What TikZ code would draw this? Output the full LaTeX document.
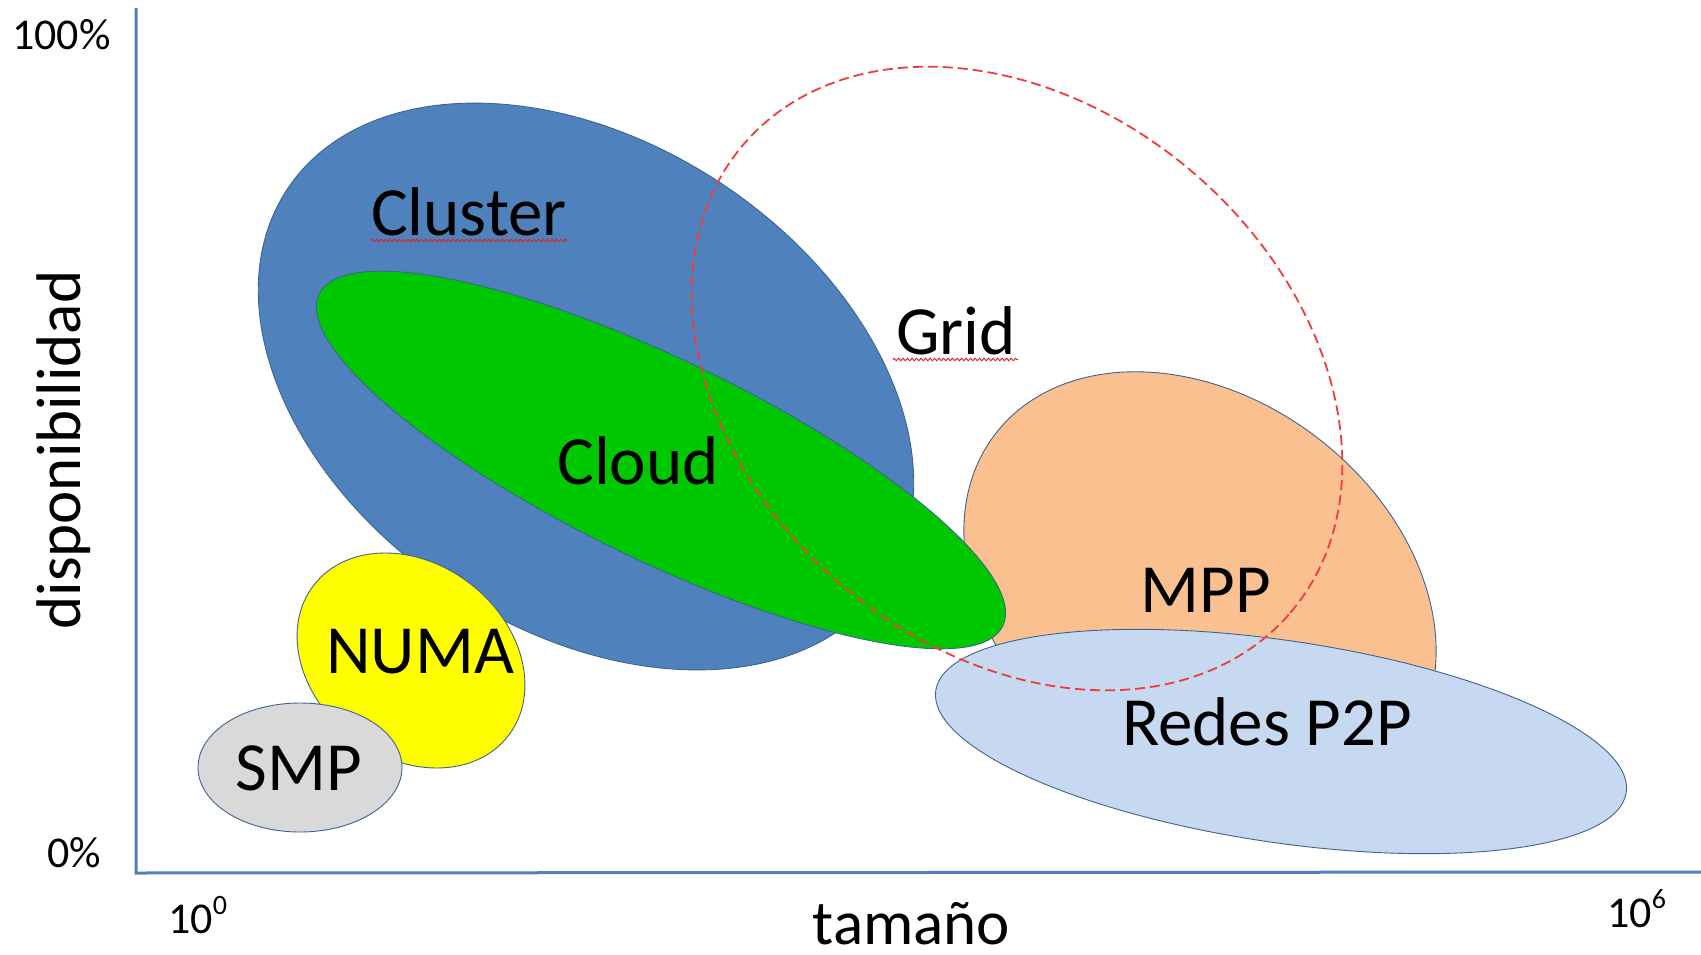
\documentclass[tikz,border=0pt]{standalone}
\usepackage{fontspec}
\setmainfont{Carlito}
\usetikzlibrary{decorations.pathmorphing}
\definecolor{axisblue}{HTML}{4F81BD}
\definecolor{clusterblue}{HTML}{4F81BD}
\definecolor{cloudgreen}{HTML}{00C800}
\definecolor{mppfill}{HTML}{FAC090}
\definecolor{ptpfill}{HTML}{C6D9F1}
\definecolor{numafill}{HTML}{FFFF00}
\definecolor{smpfill}{HTML}{D9D9D9}
\definecolor{blobline}{HTML}{3F6390}
\definecolor{gridred}{HTML}{F03C3C}
\definecolor{spellred}{HTML}{E02020}
\begin{document}
\begin{tikzpicture}[x=1pt,y=-1pt,
  blob/.style={draw=blobline, line width=0.9pt},
  axisline/.style={draw=axisblue, line width=3pt, line join=miter},
  gridline/.style={draw=gridred, line width=1.8pt, dash pattern=on 10pt off 5pt},
  lbl/.style={font=\fontsize{69}{80}\selectfont, anchor=base, inner sep=0pt},
  axlbl/.style={font=\fontsize{44}{50}\selectfont, anchor=base, inner sep=0pt},
  titlelbl/.style={font=\fontsize{63}{72}\selectfont, anchor=base, inner sep=0pt},
  squiggle/.style={draw=spellred, line width=0.9pt, decorate,
    decoration={zigzag, amplitude=1.3pt, segment length=4.5pt}}]
\useasboundingbox (0,0) rectangle (1701,955);
\fill[white] (0,0) rectangle (1701,955);

% axes
\coordinate (ytop) at (136,8);
\coordinate (orig) at (136,873);
\coordinate (xend) at (1701,872);
\draw[axisline] (ytop) -- (orig) -- (xend);

% MPP
\path[blob, fill=mppfill, rotate around={-37.4:(1200,591)}]
  (1200,591) ellipse [x radius=258pt, y radius=193pt];
% Redes P2P
\path[blob, fill=ptpfill, rotate around={-8.4:(1281,741.5)}]
  (1281,741.5) ellipse [x radius=349pt, y radius=101pt];
% Cluster
\path[blob, fill=clusterblue, rotate around={-33.4:(586,386.5)}]
  (586,386.5) ellipse [x radius=358pt, y radius=244pt];
% Cloud
\path[blob, fill=cloudgreen, rotate around={-25.9:(661,460)}]
  (661,460) ellipse [x radius=380pt, y radius=100pt];
% NUMA
\path[blob, fill=numafill, rotate around={-37.8:(411,660.5)}]
  (411,660.5) ellipse [x radius=123pt, y radius=97pt];
% SMP
\path[blob, fill=smpfill] (300,767.5) ellipse [x radius=102pt, y radius=64.5pt];
% Grid
\path[gridline, rotate around={-40.6:(1017,378.5)}]
  (1017,378.5) ellipse [x radius=360pt, y radius=271pt];

% labels
\node[lbl] (cluster) at (469,235) {Cluster};
\draw[squiggle] ([yshift=-5.5pt]cluster.base west) -- ([yshift=-5.5pt]cluster.base east);
\node[lbl] (grid) at (956,354) {Grid};
\draw[squiggle] ([yshift=-5.5pt,xshift=-3pt]grid.base west) -- ([yshift=-5.5pt,xshift=2pt]grid.base east);
\node[lbl] (cloud) at (638,484) {Cloud};
\node[lbl] (numa) at (420,673) {NUMA};
\node[lbl] (smp) at (299,790) {SMP};
\node[lbl] (mpp) at (1206,612) {MPP};
\node[lbl] (p2p) at (1267,745) {Redes P2P};

% axis labels
\node[axlbl] (hundred) at (61.5,50) {100\%};
\node[axlbl] (zero) at (74,867) {0\%};
\node[axlbl, anchor=base west] (xmin) at (168,933) {10\raisebox{0.42em}{\fontsize{28}{30}\selectfont 0}};
\node[axlbl, anchor=base west] (xmax) at (1607,927) {10\raisebox{0.42em}{\fontsize{28}{30}\selectfont 6}};
\node[titlelbl, text depth=0pt] (xtitle) at (911.5,944) {tamaño};
\node[titlelbl, rotate=90] (ytitle) at (80,450) {disponibilidad};
\end{tikzpicture}
\end{document}
